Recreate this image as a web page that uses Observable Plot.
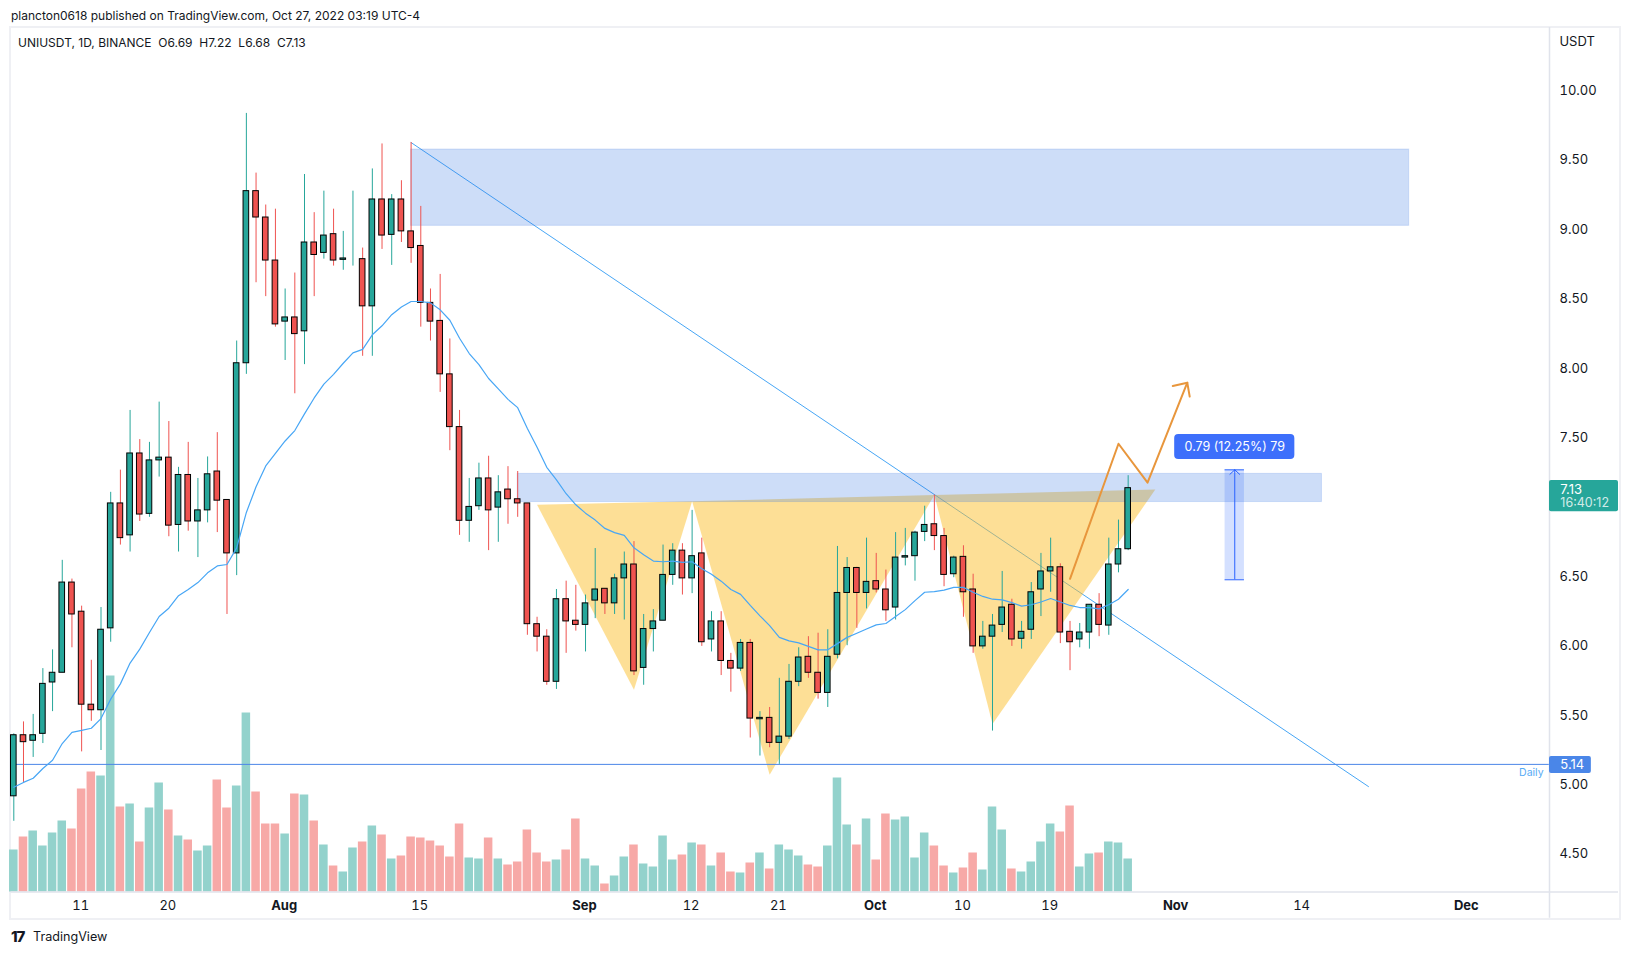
<!DOCTYPE html>
<html>
<head>
<meta charset="utf-8">
<script src="https://cdn.jsdelivr.net/npm/d3@7"></script>
<script src="https://cdn.jsdelivr.net/npm/@observablehq/plot@0.6"></script>
<style>
html,body{margin:0;padding:0;background:#fff;overflow:hidden;width:1633px;height:954px;}
#wrap{position:relative;width:1633px;height:954px;font-family:Inter,sans-serif;color:#131722;}
#frame{position:absolute;left:9px;top:26px;width:1608px;height:890px;border:2px solid #eff0f4;}
#wrap svg{position:absolute;left:0;top:0;font-family:Inter,sans-serif;}
.t{position:absolute;white-space:pre;font-size:12px;line-height:16px;}
</style>
</head>
<body>
<div id="wrap">
<div id="frame"></div>
<div class="t" style="left:11px;top:8px;" id="pub"></div>
<div class="t" style="left:18px;top:35px;" id="legend"></div>
<div class="t" style="left:11px;top:928px;font-weight:800;font-size:15px;line-height:18px;letter-spacing:-1px;">17</div>
<div class="t" style="left:33px;top:929px;font-size:12.6px;">TradingView</div>
</div>
<script>
const publishedText = "plancton0618 published on TradingView.com, Oct 27, 2022 03:19 UTC-4";
const legendText = "UNIUSDT, 1D, BINANCE  O6.69  H7.22  L6.68  C7.13";

// daily candles, index 0 = 4 Jul 2022, index 115 = 27 Oct 2022
const opens = [
4.91,5.35,5.31,5.36,5.73,5.80,6.45,6.24,5.57,5.53,
6.12,7.02,6.79,7.38,6.945,7.33,7.35,6.865,7.225,6.89,
6.97,7.25,7.045,6.66,8.03,9.27,9.08,8.77,8.33,8.36,
8.26,8.90,8.825,8.96,8.775,8.78,8.78,8.44,9.21,8.955,
9.21,8.98,8.875,8.465,8.335,7.95,7.57,6.895,7.00,7.20,
6.99,7.12,7.05,7.02,6.15,6.06,5.735,6.33,6.175,6.145,
6.32,6.405,6.30,6.48,6.58,5.835,6.115,6.175,6.505,6.68,
6.48,6.66,6.04,6.17,5.885,5.83,6.015,5.465,5.475,5.295,
5.34,5.735,5.915,5.80,5.655,5.93,6.375,6.555,6.375,6.46,
6.40,6.27,6.63,6.64,6.815,6.87,6.785,6.51,6.635,6.40,
5.99,6.06,6.145,6.29,6.045,6.11,6.40,6.53,6.56,6.095,
6.04,6.09,6.29,6.14,6.58,6.69];
const closes = [
5.35,5.30,5.35,5.72,5.80,6.45,6.22,5.57,5.53,6.11,
7.02,6.77,7.38,6.94,7.33,7.35,6.86,7.225,6.89,6.97,
7.23,7.04,6.66,8.03,9.27,9.08,8.77,8.31,8.36,8.24,
8.90,8.81,8.95,8.77,8.785,8.78,8.44,9.21,8.95,9.21,
8.98,8.86,8.465,8.33,7.95,7.57,6.895,6.995,7.20,6.97,
7.10,7.05,7.02,6.15,6.06,5.735,6.33,6.17,6.145,6.30,
6.40,6.30,6.48,6.58,5.81,6.115,6.17,6.505,6.68,6.48,
6.64,6.02,6.17,5.885,5.83,6.015,5.47,5.475,5.295,5.34,
5.735,5.91,5.80,5.655,5.915,6.375,6.555,6.375,6.455,6.40,
6.25,6.63,6.64,6.81,6.865,6.785,6.505,6.63,6.38,5.99,
6.06,6.14,6.27,6.04,6.095,6.38,6.53,6.56,6.09,6.02,
6.09,6.29,6.145,6.58,6.69,7.13];
const highs = [
5.36,5.446,5.50,5.83,5.965,6.61,6.475,6.28,5.89,6.27,
7.10,7.26,7.69,7.48,7.46,7.75,7.61,7.28,7.46,7.20,
7.355,7.53,7.045,8.19,9.83,9.40,9.17,9.14,8.565,8.68,
9.39,9.115,9.27,9.14,8.98,9.27,8.86,9.43,9.61,9.245,
9.345,9.62,9.16,8.565,8.67,8.205,7.69,7.20,7.31,7.36,
7.22,7.285,7.25,7.02,6.20,6.11,6.40,6.46,6.43,6.36,
6.695,6.405,6.51,6.67,6.745,6.22,6.255,6.72,6.73,6.73,
6.97,6.77,6.24,6.24,5.94,6.04,6.04,5.52,5.55,5.76,
5.86,5.98,6.06,6.085,6.11,6.71,6.63,6.56,6.77,6.66,
6.54,6.81,6.84,6.82,7.00,7.08,6.84,6.64,6.715,6.51,
6.17,6.22,6.53,6.33,6.17,6.45,6.66,6.77,6.585,6.17,
6.155,6.29,6.37,6.77,6.90,7.22];
const lows = [
4.73,5.01,5.19,5.29,5.52,5.80,5.98,5.23,5.45,5.24,
6.02,6.72,6.67,6.89,6.92,7.21,6.78,6.67,6.82,6.63,
6.88,6.81,6.22,6.50,7.95,8.61,8.51,8.29,8.05,7.81,
8.02,8.51,8.78,8.73,8.70,8.73,8.08,8.08,8.85,8.735,
8.90,8.75,8.29,8.19,7.82,7.40,6.79,6.74,6.97,6.68,
6.74,6.87,6.92,6.07,5.95,5.71,5.68,5.94,6.10,5.95,
6.19,6.22,6.22,6.18,5.78,5.71,5.95,6.175,6.43,6.36,
6.37,5.99,5.95,5.78,5.66,5.81,5.33,5.20,5.26,5.14,
5.32,5.70,5.76,5.61,5.55,5.90,5.995,6.12,6.26,6.375,
6.17,6.18,6.57,6.46,6.745,6.68,6.42,6.485,6.20,5.94,
5.97,5.38,6.09,5.99,5.97,6.04,6.205,6.38,6.01,5.815,
5.98,5.97,6.06,6.07,6.52,6.68];
const volumes = [
4.2,5.5,6.1,4.6,5.9,7.1,6.3,10.3,12.0,11.6,
21.6,8.5,8.8,5.0,8.4,10.9,8.2,5.6,5.2,4.1,
4.6,11.2,8.4,10.6,17.9,10.0,6.8,6.8,5.8,9.8,
9.7,7.1,4.7,2.6,2.0,4.4,5.0,6.6,5.7,3.3,
3.6,5.5,5.4,5.1,4.6,3.5,6.8,3.4,3.3,5.4,
3.3,2.7,3.0,6.2,3.9,3.0,3.2,4.2,7.3,3.3,
2.6,0.8,1.6,3.5,4.7,2.8,2.5,5.6,3.2,3.7,
4.9,4.7,2.6,3.9,2.0,1.9,2.9,3.9,2.3,4.7,
4.2,3.6,2.7,2.5,4.6,11.4,6.7,4.7,7.3,3.2,
7.8,7.2,7.5,3.4,5.9,4.6,2.6,1.9,2.4,3.9,
2.2,8.5,6.2,2.3,2.0,3.0,5.0,6.8,6.0,8.6,
2.5,3.8,3.9,5.0,4.9,3.3];
const movingAverage = [
4.975,5.01,5.04,5.11,5.17,5.29,5.37,5.385,5.40,5.47,
5.61,5.72,5.87,5.97,6.09,6.205,6.265,6.355,6.40,6.45,
6.52,6.57,6.58,6.70,6.955,7.14,7.29,7.38,7.47,7.545,
7.665,7.78,7.88,7.95,8.03,8.105,8.13,8.235,8.30,8.38,
8.435,8.475,8.475,8.465,8.415,8.34,8.21,8.10,8.02,7.92,
7.845,7.77,7.71,7.56,7.425,7.28,7.19,7.09,7.01,6.95,
6.90,6.84,6.81,6.79,6.70,6.65,6.605,6.60,6.605,6.595,
6.60,6.55,6.51,6.46,6.40,6.365,6.285,6.21,6.14,6.055,
6.03,6.015,5.99,5.965,5.965,6.01,6.055,6.085,6.115,6.145,
6.155,6.205,6.255,6.32,6.38,6.385,6.395,6.415,6.415,6.38,
6.35,6.33,6.325,6.305,6.28,6.29,6.31,6.335,6.31,6.285,
6.27,6.27,6.26,6.29,6.33,6.40];

// axis labels
const priceTicks = [10,9.5,9,8.5,8,7.5,6.5,6,5.5,5,4.5];
const dayTicks = [7,16,42,70,79,98,107,133];
const dayTickLabels = ["11","20","15","12","21","10","19","14"];
const monthTicks = [28,59,89,120,150];
const monthTickLabels = ["Aug","Sep","Oct","Nov","Dec"];

// drawings: [day index, price]
const trendStart = [41,9.62], trendEnd = [139.8,4.98];
const supportPrice = 5.14;
const upperZone = {x1:41,x2:144,y1:9.02,y2:9.57};
const neckZone = {x1:52,x2:135,y1:7.03,y2:7.233};
const patternPoints = [[54,7.01],[64,5.677],[70,7.035],[78,5.065],[95,7.08],[101,5.43],[117.8,7.12]];
const projectionPath = [[109,6.477],[114,7.45],[117,7.17],[121.1,7.89]];
const projectionHead = [[119.6,7.866],[121.1,7.89],[121.35,7.79]];
const measureBox = {x1:125,x2:127,y1:6.47,y2:7.262};
const measureHead = [[125.5,7.23],[126,7.262],[126.5,7.23]];
const measureLabel = "0.79 (12.25%) 79";
const measureTag = {x1:119.8,x2:132.2,y1:7.337,y2:7.517};
const lastPriceTag = {x1:158.48,x2:165.6,y1:6.96,y2:7.185};
const supportTag = {x1:158.48,x2:162.8,y1:5.075,y2:5.197};

document.getElementById("pub").textContent = publishedText;
document.getElementById("legend").textContent = legendText;

const candles = opens.map((o,i)=>({i,open:o,close:closes[i],high:highs[i],low:lows[i],vol:volumes[i],ma:movingAverage[i],up:closes[i]>=o}));

const GREEN="#26a69a",RED="#ef5350",VGREEN="#93d2cc",VRED="#f7a9a7",LINE="#47a6f5";
const yBase = 4.2205;             // bottom of the price pane
const volumeK = 10/138.8;         // volume pane shares the pane height

const triangles = [0,1,2].map(k=>patternPoints.slice(k*2,k*2+3)).flatMap((tri,k)=>tri.map(p=>({k,x:p[0],y:p[1]})));

const chart = Plot.plot({
  width:1633,height:954,
  marginLeft:10.5,marginRight:84,marginTop:27,marginBottom:62.5,
  x:{domain:[-0.289,158.48],axis:null},
  y:{domain:[yBase,10.449],axis:null},
  marks:[
    // volume
    Plot.rect(candles,{x1:d=>d.i-0.44,x2:d=>d.i+0.44,y1:yBase,y2:d=>yBase+d.vol*volumeK,fill:d=>d.up?VGREEN:VRED}),
    // trend line, pattern, zones
    Plot.line([trendStart,trendEnd],{x:d=>d[0],y:d=>d[1],stroke:LINE,strokeWidth:1}),
    Plot.line(triangles,{x:"x",y:"y",z:"k",fill:"#fbc02d",fillOpacity:0.5,stroke:"none"}),
    Plot.rect([upperZone,neckZone],{x1:"x1",x2:"x2",y1:"y1",y2:"y2",fill:"#3777e3",fillOpacity:0.25,stroke:"#3777e3",strokeOpacity:0.18,strokeWidth:1}),
    Plot.ruleY([supportPrice],{x1:-0.289,x2:158.48,stroke:"#4a86e8",strokeWidth:1}),
    // measure tool
    Plot.rect([measureBox],{x1:"x1",x2:"x2",y1:"y1",y2:"y2",fill:"#2962ff",fillOpacity:0.2}),
    Plot.ruleY([measureBox.y1,measureBox.y2],{x1:measureBox.x1,x2:measureBox.x2,stroke:"#2962ff",strokeWidth:1}),
    Plot.ruleX([(measureBox.x1+measureBox.x2)/2],{y1:measureBox.y1,y2:measureBox.y2,stroke:"#2962ff",strokeWidth:1}),
    Plot.line(measureHead,{x:d=>d[0],y:d=>d[1],stroke:"#2962ff",strokeWidth:1}),
    Plot.rect([measureTag],{x1:"x1",x2:"x2",y1:"y1",y2:"y2",fill:"#3d6ffb",rx:4}),
    Plot.text([measureLabel],{x:(measureTag.x1+measureTag.x2)/2,y:(measureTag.y1+measureTag.y2)/2,text:d=>d,fill:"white",fontSize:12.5}),
    // candles
    Plot.ruleX(candles,{x:"i",y1:"low",y2:"high",stroke:d=>d.up?GREEN:RED,strokeWidth:1}),
    Plot.rect(candles,{x1:d=>d.i-0.29,x2:d=>d.i+0.29,y1:"open",y2:"close",fill:d=>d.up?GREEN:RED,stroke:"#000",strokeWidth:1}),
    // moving average, projection
    Plot.line(candles,{x:"i",y:"ma",stroke:LINE,strokeWidth:1.2}),
    Plot.line(projectionPath,{x:d=>d[0],y:d=>d[1],stroke:"#e8963c",strokeWidth:2}),
    Plot.line(projectionHead,{x:d=>d[0],y:d=>d[1],stroke:"#e8963c",strokeWidth:2}),
    // panes
    Plot.ruleX([158.48],{y1:yBase-0.19,y2:10.449,stroke:"#e0e3eb",strokeWidth:1.5}),
    Plot.ruleY([yBase],{x1:-0.289,x2:165.6,stroke:"#e0e3eb",strokeWidth:1.5}),
    // axes
    Plot.axisY(priceTicks,{anchor:"right",tickSize:0,tickPadding:10,textAnchor:"start",dy:1,tickFormat:d3.format(".2f"),fontSize:13,fill:"#131722",label:null}),
    Plot.axisX(dayTicks,{anchor:"bottom",tickSize:0,tickPadding:9,dx:-1,tickFormat:d=>dayTickLabels[dayTicks.indexOf(d)],fontSize:13,fill:"#131722",label:null}),
    Plot.axisX(monthTicks,{anchor:"bottom",tickSize:0,tickPadding:9,dx:-1,tickFormat:d=>monthTickLabels[monthTicks.indexOf(d)],fontSize:13,fontWeight:700,fill:"#131722",label:null}),
    Plot.text(["USDT"],{x:159.5,y:10.345,text:d=>d,textAnchor:"start",fontSize:13,fill:"#131722"}),
    // price tags
    Plot.rect([lastPriceTag],{x1:"x1",x2:"x2",y1:"y1",y2:"y2",fill:"#26a69a",rx:2}),
    Plot.text(["7.13"],{x:159.6,y:7.115,text:d=>d,textAnchor:"start",fontSize:13,fill:"white"}),
    Plot.text(["16:40:12"],{x:159.6,y:7.02,text:d=>d,textAnchor:"start",fontSize:12.5,fill:"white",fillOpacity:0.8}),
    Plot.rect([supportTag],{x1:"x1",x2:"x2",y1:"y1",y2:"y2",fill:"#4a86e8",rx:2}),
    Plot.text(["5.14"],{x:159.6,y:supportPrice,text:d=>d,textAnchor:"start",fontSize:13,fill:"white"}),
    Plot.text(["Daily"],{x:157.87,y:5.08,text:d=>d,textAnchor:"end",fontSize:10.5,fill:"#58abf5"})
  ]
});
document.getElementById("wrap").appendChild(chart);
</script>
</body>
</html>
